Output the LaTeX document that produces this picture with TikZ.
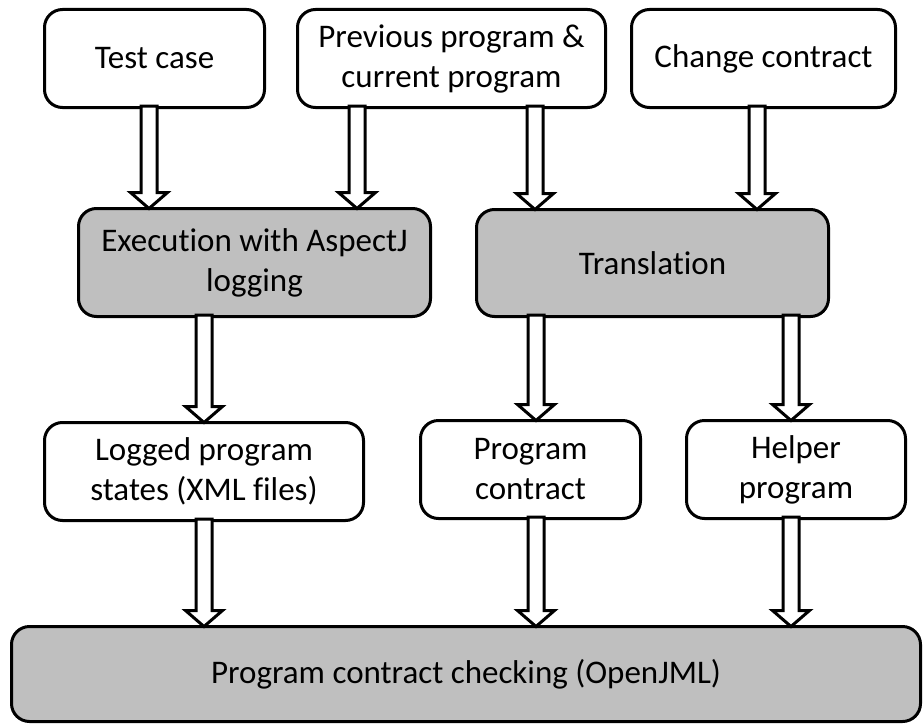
\documentclass[tikz,border=0pt]{standalone}
\usepackage{fontspec}
\setmainfont{Carlito}[Ligatures={NoCommon}]
\usetikzlibrary{calc}
\definecolor{boxgray}{HTML}{BFBFBF}
\tikzset{
  box/.style={draw=black, line width=3pt, rounded corners=18pt, align=center,
    font=\fontsize{33}{40}\selectfont, inner sep=0pt, outer sep=0pt, fill=white},
  grbox/.style={box, fill=boxgray},
  fatarrow/.style={draw=black, line width=3pt, fill=white, line join=miter},
}
% hollow block arrow at horizontal position #1 (pt) from node #2 down to node #3
\newcommand\hollowarrow[3]{%
  \draw[fatarrow] let \p1=(#2.south), \p2=(#3.north) in
    (#1pt-8pt,\y1+1.5pt) -- (#1pt-8pt,\y2+16pt) -- (#1pt-18.5pt,\y2+16pt) -- (#1pt,\y2)
    -- (#1pt+18.5pt,\y2+16pt) -- (#1pt+8pt,\y2+16pt) -- (#1pt+8pt,\y1+1.5pt) -- cycle;}
\begin{document}
\begin{tikzpicture}[x=1pt,y=-1pt]
\useasboundingbox (0,0) rectangle (923,725);
% inputs
\node[box, minimum width=220pt, minimum height=98pt] (test) at (154.5,58.5) {Test case};
\node[box, minimum width=308pt, minimum height=98pt] (prev) at (451.5,58.5) {Previous program \&\\current program};
\node[box, minimum width=264pt, minimum height=98pt] (change) at (763.5,58.5) {Change contract};
% processing steps
\node[grbox, minimum width=352pt, minimum height=108pt] (exec) at (254.5,262.5) {Execution with AspectJ\\logging};
\node[grbox, minimum width=352pt, minimum height=107pt] (trans) at (652.5,263) {Translation};
% intermediate artefacts
\node[box, minimum width=319pt, minimum height=98pt] (logged) at (204,471.5) {Logged program\\states (XML files)};
\node[box, minimum width=220pt, minimum height=98pt] (progc) at (530.5,469.5) {Program\\contract};
\node[box, minimum width=219pt, minimum height=98pt] (helper) at (796,469.5) {Helper\\program};
% final check
\node[grbox, minimum width=909pt, minimum height=95pt] (check) at (466,674) {Program contract checking (OpenJML)};
% connectors
\hollowarrow{149}{test}{exec}
\hollowarrow{357}{prev}{exec}
\hollowarrow{535}{prev}{trans}
\hollowarrow{757}{change}{trans}
\hollowarrow{204}{exec}{logged}
\hollowarrow{536}{trans}{progc}
\hollowarrow{791}{trans}{helper}
\hollowarrow{204}{logged}{check}
\hollowarrow{536}{progc}{check}
\hollowarrow{791}{helper}{check}
\end{tikzpicture}
\end{document}
